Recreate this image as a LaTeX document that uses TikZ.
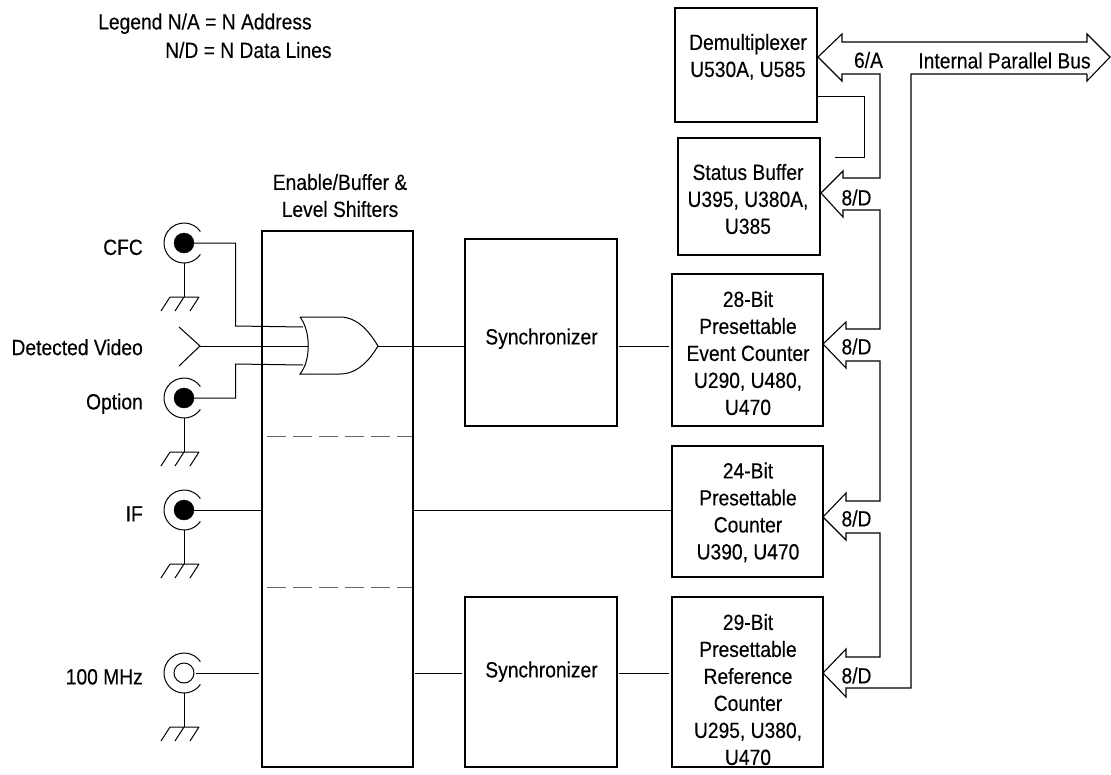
\documentclass[tikz,border=0pt]{standalone}
\usepackage{fontspec}
\setmainfont[FakeStretch=0.875,FakeBold=0.25]{Liberation Sans}
\newcommand{\jack}[3]{% name, y, filled?
  \coordinate (#1c) at (184,#2);
  \draw[wire] (#1c) ++(35:20) arc[start angle=35,end angle=325,radius=20];
  \node[#3] (#1) at (#1c) {};
  \coordinate (#1g) at (184,#2+54);
  \draw[wire] (#1c) ++(0,20) -- (#1g);
  \draw[wire] (170,#2+54) -- (199,#2+54)
     (170,#2+54) -- ++(-9,14) (184,#2+54) -- ++(-9,14) (199,#2+54) -- ++(-9,14);
}
\begin{document}
\begin{tikzpicture}[x=1pt,y=-1pt,
  wire/.style={line width=1pt,black},
  gapped/.style={wire,shorten >=2pt,shorten <=1pt},
  buspath/.style={line width=1.1pt,black,line join=miter},
  block/.style={draw,line width=2pt,inner sep=0pt},
  lab/.style={font=\fontsize{22}{27}\selectfont,inner sep=0pt,align=center,
     execute at begin node=\strut,execute at end node=\strut},
  lableft/.style={lab,anchor=east},
  filled/.style={circle,fill=black,draw=black,minimum size=20pt,inner sep=0pt},
  hollow/.style={circle,fill=white,draw=black,line width=1pt,minimum size=20pt,inner sep=0pt},
  section/.style={line width=1pt,black!60,dash pattern=on 19pt off 7pt}]
\useasboundingbox (0,0) rectangle (1111,774);
% blocks
\newcommand{\blk}[5]{\node[block,minimum width=#4pt-#2pt,minimum height=#5pt-#3pt] (#1) at ({(#2+#4)/2},{(#3+#5)/2}) {};}
\blk{enable}{262}{231}{413}{767}
\blk{syncA}{465}{239}{617}{426}
\blk{syncB}{465}{597}{617}{767}
\blk{demux}{675}{8}{817}{122}
\blk{status}{678}{138}{820}{255}
\blk{event}{672}{274}{823}{426}
\blk{cnt}{672}{446}{823}{577}
\blk{ref}{672}{597}{823}{767}
% block texts
\node[lab] (tsyncA) at (541.5,339) {Synchronizer};
\node[lab] (tsyncB) at (541.5,672) {Synchronizer};
\node[lab] (tdemux) at (748,59.5) {Demultiplexer\\U530A, U585};
\node[lab] (tstatus) at (748,203) {Status Buffer\\U395, U380A,\\U385};
\node[lab] (tevent) at (748,357) {28-Bit\\Presettable\\Event Counter\\U290, U480,\\U470};
\node[lab] (tcnt) at (748,515) {24-Bit\\Presettable\\Counter\\U390, U470};
\node[lab] (tref) at (748,693.5) {29-Bit\\Presettable\\Reference\\Counter\\U295, U380,\\U470};
% labels
\node[lab,anchor=west] (legA) at (98,24) {Legend N/A = N Address};
\node[lab,anchor=west] (legB) at (165,52.5) {N/D = N Data Lines};
\node[lab] (enl) at (340,199.5) {Enable/Buffer \&\\Level Shifters};
\node[lableft] (lcfc) at (143,249.5) {CFC};
\node[lableft] (ldv) at (143,349.7) {Detected Video};
\node[lableft] (lopt) at (143,404) {Option};
\node[lableft] (lif) at (143,516) {IF};
\node[lableft] (lmhz) at (143,679) {100 MHz};
\node[lab] (b1) at (868.5,62.5) {6/A};
\node[lab] (b2) at (856.5,200) {8/D};
\node[lab] (b3) at (856.5,349) {8/D};
\node[lab] (b4) at (856.5,521) {8/D};
\node[lab] (b5) at (856.5,678) {8/D};
\node[lab] (bus) at (1004.5,63) {Internal Parallel Bus};
% jacks
\jack{cfc}{243}{filled}
\jack{opt}{398}{filled}
\jack{ifj}{510}{filled}
\jack{mhz}{673}{hollow}
% gate
\coordinate (gt) at (303,327);
\coordinate (gm) at (308,346);
\coordinate (gb) at (303,365);
\node[inner sep=0pt,minimum size=0pt] (gout) at (378,346) {};
\draw[wire] (300,317) -- (340,317) .. controls (357,317) and (369,331) .. (gout.center)
   .. controls (369,361) and (357,374) .. (340,374) -- (300,374)
   .. controls (311,361) and (311,331) .. (300,317);
% wires
\draw[wire] (cfc.east) -- (235.7,243) -- (235.7,326) -- (gt);
\draw[wire] (opt.east) -- (235.7,398) -- (235.7,364) -- (gb);
\coordinate (dvt) at (200,346);
\draw[wire] (179,327) -- (dvt) -- (179,366);
\draw[wire] (dvt) -- (gm);
\draw[wire] (gout.center) -- (syncA.west |- gout);
\draw[gapped] (syncA.east |- gout) -- (event.west |- gout);
\draw[wire] (ifj.east) -- (enable.west |- ifj);
\draw[wire] (enable.east |- ifj) -- (cnt.west |- ifj);
\draw[gapped] (mhz.east) -- (enable.west |- mhz);
\draw[gapped] (enable.east |- mhz) -- (syncB.west |- mhz);
\draw[gapped] (syncB.east |- mhz) -- (ref.west |- mhz);
\coordinate (dmx) at (818,96);
\coordinate (stb) at (835,157);
\draw[wire] (dmx) -- (864,96) -- (864,157) -- (stb);
% section lines
\draw[section] (267,436) -- (412,436);
\draw[section] (267,587) -- (412,587);
% buses
\draw[buspath] (1087,74) -- (1087,81) -- (1110,57) -- (1087,34) -- (1087,42) -- (842,42) -- (842,34) -- (818,57) -- (842,81) -- (842,74)
  -- (880,74) -- (880,178) -- (843,178) -- (843,171) -- (821,193) -- (843,217) -- (843,210)
  -- (880,210) -- (880,329) -- (846,329) -- (846,322) -- (823,344) -- (846,368) -- (846,361)
  -- (880,361) -- (880,501) -- (846,501) -- (846,493) -- (823,517) -- (846,540) -- (846,533)
  -- (880,533) -- (880,657) -- (846,657) -- (846,649) -- (823,673) -- (846,697) -- (846,688)
  -- (911,688) -- (911,74) -- (1087,74);
\end{tikzpicture}
\end{document}
